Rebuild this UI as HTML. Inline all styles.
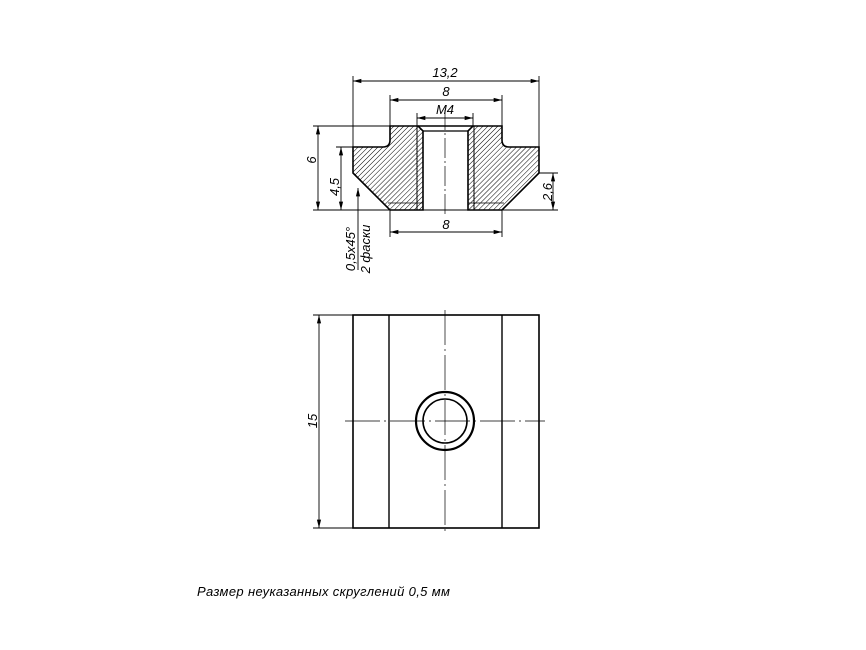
<!DOCTYPE html>
<html><head><meta charset="utf-8"><style>
html,body{margin:0;padding:0;background:#fff;width:866px;height:650px;overflow:hidden}
text{font-family:"Liberation Sans",sans-serif;font-style:italic;font-size:13px;fill:#000}
</style></head><body>
<svg width="866" height="650" viewBox="0 0 866 650" xmlns="http://www.w3.org/2000/svg">
<defs>
<pattern id="h" patternUnits="userSpaceOnUse" width="3.5" height="3.5" patternTransform="rotate(45)">
<line x1="0" y1="0" x2="0" y2="3.5" stroke="#000" stroke-width="1"/>
</pattern>
<marker id="a" viewBox="0 0 10 6" refX="10" refY="3" markerWidth="10" markerHeight="5" orient="auto-start-reverse" markerUnits="userSpaceOnUse">
<path d="M0,0.5 L10,3 L0,5.5 Z" fill="#000" stroke="none"/>
</marker>
</defs>
<g stroke="#000" fill="none">
<path d="M390,126 L390,140 Q390,147 383,147 L353,147 L353,173 L390,210 L423,210 L423,131 L418,126 Z" fill="url(#h)" stroke-width="1.6"/>
<path d="M502,126 L502,140 Q502,147 509,147 L539,147 L539,173 L502,210 L468,210 L468,131 L473,126 Z" fill="url(#h)" stroke-width="1.6"/>
<line x1="418" y1="126" x2="473" y2="126" stroke-width="1.6"/>
<line x1="423" y1="131" x2="468" y2="131" stroke-width="1.2"/>
<line x1="417" y1="126" x2="417" y2="210" stroke-width="1"/>
<line x1="474" y1="126" x2="474" y2="210" stroke-width="1"/>
<line x1="388" y1="203" x2="423" y2="203" stroke-width="0.8"/>
<line x1="468" y1="203" x2="504" y2="203" stroke-width="0.8"/>
<line x1="445" y1="110" x2="445" y2="215" stroke-width="0.7" stroke-dasharray="20,3,2,3"/>
<g stroke-width="0.9">
<line x1="353" y1="76" x2="353" y2="147"/><line x1="539" y1="76" x2="539" y2="173"/>
<line x1="353" y1="81" x2="539" y2="81" marker-start="url(#a)" marker-end="url(#a)"/>
<line x1="390" y1="95" x2="390" y2="126"/><line x1="502" y1="95" x2="502" y2="126"/>
<line x1="390" y1="100" x2="502" y2="100" marker-start="url(#a)" marker-end="url(#a)"/>
<line x1="417" y1="113" x2="417" y2="126"/><line x1="473" y1="113" x2="473" y2="126"/>
<line x1="417" y1="118" x2="473" y2="118" marker-start="url(#a)" marker-end="url(#a)"/>
<line x1="313" y1="126" x2="390" y2="126"/><line x1="313" y1="210" x2="558" y2="210"/>
<line x1="318" y1="126" x2="318" y2="210" marker-start="url(#a)" marker-end="url(#a)"/>
<line x1="336" y1="147" x2="353" y2="147"/>
<line x1="341" y1="147" x2="341" y2="210" marker-start="url(#a)" marker-end="url(#a)"/>
<line x1="539" y1="173" x2="558" y2="173"/>
<line x1="553" y1="173" x2="553" y2="210" marker-start="url(#a)" marker-end="url(#a)"/>
<line x1="390" y1="210" x2="390" y2="237"/><line x1="502" y1="210" x2="502" y2="237"/>
<line x1="390" y1="232" x2="502" y2="232" marker-start="url(#a)" marker-end="url(#a)"/>
<line x1="358" y1="270" x2="358" y2="188" marker-end="url(#a)"/>
</g>
<rect x="353" y="315" width="186" height="213" stroke-width="1.6"/>
<line x1="389" y1="315" x2="389" y2="528" stroke-width="1.4"/>
<line x1="502" y1="315" x2="502" y2="528" stroke-width="1.4"/>
<circle cx="445" cy="421" r="29" stroke-width="2.2"/>
<circle cx="445" cy="421" r="22" stroke-width="1.6"/>
<line x1="445" y1="310" x2="445" y2="533" stroke-width="0.7" stroke-dasharray="35,4,2,4"/>
<line x1="345" y1="421" x2="545" y2="421" stroke-width="0.7" stroke-dasharray="35,4,2,4"/>
<g stroke-width="0.9">
<line x1="313" y1="315" x2="353" y2="315"/><line x1="313" y1="528" x2="353" y2="528"/>
<line x1="319" y1="315" x2="319" y2="528" marker-start="url(#a)" marker-end="url(#a)"/>
</g>
</g>
<text x="445" y="77" text-anchor="middle">13,2</text>
<text x="446" y="96" text-anchor="middle">8</text>
<text x="445" y="114" text-anchor="middle">M4</text>
<text x="446" y="229" text-anchor="middle">8</text>
<text transform="translate(316,160) rotate(-90)" text-anchor="middle">6</text>
<text transform="translate(339,187) rotate(-90)" text-anchor="middle">4,5</text>
<text transform="translate(552,192) rotate(-90)" text-anchor="middle">2,6</text>
<text transform="translate(355,249) rotate(-90)" text-anchor="middle" font-size="12">0,5x45°</text>
<text transform="translate(370,249) rotate(-90)" text-anchor="middle" font-size="12">2 фаски</text>
<text transform="translate(317,421) rotate(-90)" text-anchor="middle">15</text>
<text x="197" y="596" font-size="12" letter-spacing="0.35">Размер неуказанных скруглений 0,5 мм</text>
</svg>
</body></html>
